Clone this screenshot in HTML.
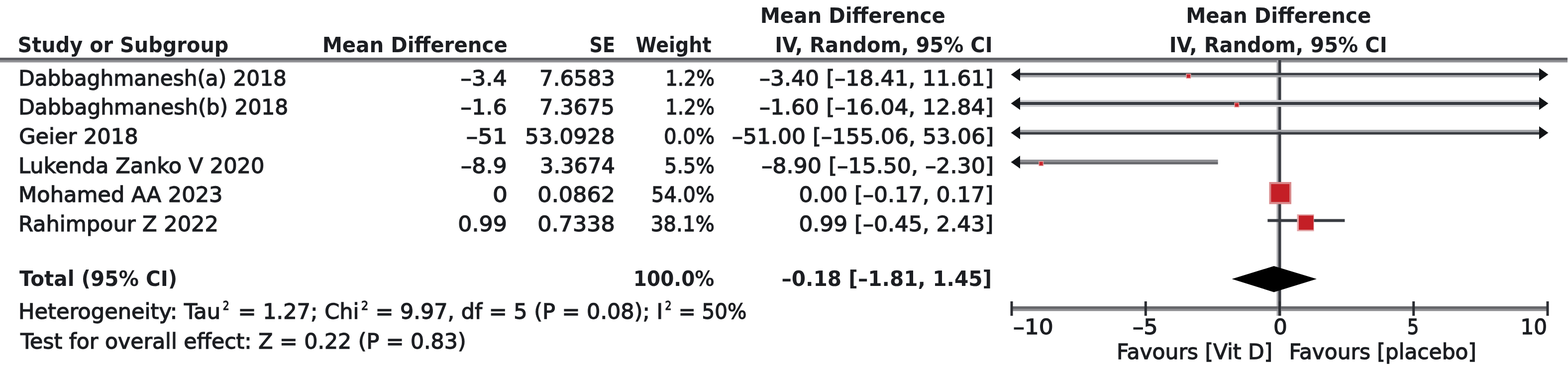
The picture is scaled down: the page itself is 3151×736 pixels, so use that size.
<!DOCTYPE html>
<html><head><meta charset="utf-8"><title>Forest plot</title><style>
html,body{margin:0;padding:0;background:#fff;}
body{width:3151px;height:736px;overflow:hidden;}
svg{display:block;}
text{font-family:"DejaVu Sans", "Liberation Sans", sans-serif;font-size:42px;fill:#1c1e22;}
text.r{stroke:#1c1e22;stroke-width:1.3px;}
text.b{font-weight:bold;}
</style></head><body>
<svg width="3151" height="736" viewBox="0 0 3151 736">
<rect x="0" y="116" width="3150" height="5" fill="#606166"/>
<rect x="0" y="121" width="3150" height="4.5" fill="#909094"/>
<rect x="2565.5" y="121" width="3.5" height="514" fill="#a9a9ad"/>
<rect x="2569" y="121" width="5.5" height="514" fill="#393c42"/>
<rect x="2031" y="616" width="1081" height="5" fill="#66676b"/>
<rect x="2031" y="621" width="1081" height="4.5" fill="#8d8d91"/>
<rect x="2030.5" y="606" width="5" height="29" fill="#2c2e33"/>
<rect x="2299.8" y="606" width="5" height="29" fill="#2c2e33"/>
<rect x="2569.0" y="606" width="5" height="29" fill="#2c2e33"/>
<rect x="2838.2" y="606" width="5" height="29" fill="#2c2e33"/>
<rect x="3107.5" y="606" width="5" height="29" fill="#2c2e33"/>
<rect x="2048.0" y="146.5" width="1047.0" height="4.5" fill="#393c42"/>
<rect x="2048.0" y="151" width="1047.0" height="4.5" fill="#a4a5a9"/>
<polygon points="2031.5,150.0 2050.0,137.0 2050.0,163.0" fill="#111316"/>
<polygon points="3111.5,150.0 3093.0,137.0 3093.0,163.0" fill="#111316"/>
<rect x="2048.0" y="201" width="1047.0" height="4.0" fill="#d0d0d3"/>
<rect x="2048.0" y="205" width="1047.0" height="6.0" fill="#393c42"/>
<rect x="2048.0" y="211" width="1047.0" height="4.0" fill="#d0d0d3"/>
<polygon points="2031.5,208.0 2050.0,195.0 2050.0,221.0" fill="#111316"/>
<polygon points="3111.5,208.0 3093.0,195.0 3093.0,221.0" fill="#111316"/>
<rect x="2048.0" y="261" width="1047.0" height="4.5" fill="#a4a5a9"/>
<rect x="2048.0" y="265.5" width="1047.0" height="5.1" fill="#393c42"/>
<polygon points="2031.5,267.0 2050.0,254.0 2050.0,280.0" fill="#111316"/>
<polygon points="3111.5,267.0 3093.0,254.0 3093.0,280.0" fill="#111316"/>
<rect x="2048.0" y="321" width="399.6" height="5.0" fill="#8e8e92"/>
<rect x="2048.0" y="326" width="399.6" height="4.5" fill="#66676b"/>
<polygon points="2031.5,326.0 2050.0,313.0 2050.0,339.0" fill="#111316"/>
<rect x="2547.3" y="440.5" width="155.1" height="5.9" fill="#393c42"/>
<rect x="2383.4" y="148.0" width="10" height="10" fill="#e8a0a0"/>
<rect x="2384.9" y="149.5" width="7" height="7" fill="#c8242b"/>
<rect x="2480.3" y="206.0" width="10" height="10" fill="#e8a0a0"/>
<rect x="2481.8" y="207.5" width="7" height="7" fill="#c8242b"/>
<rect x="2087.2" y="324.0" width="10" height="10" fill="#e8a0a0"/>
<rect x="2088.7" y="325.5" width="7" height="7" fill="#c8242b"/>
<rect x="2550.5" y="366" width="44.5" height="44.5" fill="#d98a8c"/>
<rect x="2554.4" y="370.2" width="36.8" height="35.9" fill="#c41f26"/>
<rect x="2606.5" y="431" width="34" height="34" fill="#e3a3a5"/>
<rect x="2610" y="433.5" width="29.5" height="28.5" fill="#c41f26"/>
<polygon points="2475.5,561 2560,535 2646,561 2560,587.5" fill="#000"/>
<text class="b" x="1527.66" y="46" textLength="372.19" lengthAdjust="spacingAndGlyphs">Mean Difference</text>
<text class="b" x="2383.16" y="46" textLength="372.19" lengthAdjust="spacingAndGlyphs">Mean Difference</text>
<text class="b" x="35.55" y="105" textLength="423.78" lengthAdjust="spacingAndGlyphs">Study or Subgroup</text>
<text class="b" x="647.66" y="105" textLength="372.19" lengthAdjust="spacingAndGlyphs">Mean Difference</text>
<text class="b" x="1184.57" y="105" textLength="51.72" lengthAdjust="spacingAndGlyphs">SE</text>
<text class="b" x="1277.59" y="105" textLength="152.1" lengthAdjust="spacingAndGlyphs">Weight</text>
<text class="b" x="1557.19" y="105" textLength="437.39" lengthAdjust="spacingAndGlyphs">IV, Random, 95% CI</text>
<text class="b" x="2349.68" y="105" textLength="437.9" lengthAdjust="spacingAndGlyphs">IV, Random, 95% CI</text>
<text class="r" x="37.19" y="171.5" textLength="538.6" lengthAdjust="spacingAndGlyphs">Dabbaghmanesh(a) 2018</text>
<text class="r" x="925.64" y="171.5" textLength="93.17" lengthAdjust="spacingAndGlyphs">–3.4</text>
<text class="r" x="1084.0" y="171.5" textLength="151.97" lengthAdjust="spacingAndGlyphs">7.6583</text>
<text class="r" x="1336.99" y="171.5" textLength="99.1" lengthAdjust="spacingAndGlyphs">1.2%</text>
<text class="r" x="1526.05" y="171.5" textLength="470.71" lengthAdjust="spacingAndGlyphs">–3.40 [–18.41, 11.61]</text>
<text class="r" x="37.18" y="230.2" textLength="542.04" lengthAdjust="spacingAndGlyphs">Dabbaghmanesh(b) 2018</text>
<text class="r" x="925.64" y="230.2" textLength="93.17" lengthAdjust="spacingAndGlyphs">–1.6</text>
<text class="r" x="1084.02" y="230.2" textLength="151.03" lengthAdjust="spacingAndGlyphs">7.3675</text>
<text class="r" x="1336.99" y="230.2" textLength="99.1" lengthAdjust="spacingAndGlyphs">1.2%</text>
<text class="r" x="1526.05" y="230.2" textLength="470.71" lengthAdjust="spacingAndGlyphs">–1.60 [–16.04, 12.84]</text>
<text class="r" x="38.15" y="288.9" textLength="239.42" lengthAdjust="spacingAndGlyphs">Geier 2018</text>
<text class="r" x="936.89" y="288.9" textLength="82.96" lengthAdjust="spacingAndGlyphs">–51</text>
<text class="r" x="1055.12" y="288.9" textLength="180.43" lengthAdjust="spacingAndGlyphs">53.0928</text>
<text class="r" x="1333.99" y="288.9" textLength="102.14" lengthAdjust="spacingAndGlyphs">0.0%</text>
<text class="r" x="1470.95" y="288.9" textLength="526.27" lengthAdjust="spacingAndGlyphs">–51.00 [–155.06, 53.06]</text>
<text class="r" x="37.13" y="347.6" textLength="494.23" lengthAdjust="spacingAndGlyphs">Lukenda Zanko V 2020</text>
<text class="r" x="926.14" y="347.6" textLength="92.65" lengthAdjust="spacingAndGlyphs">–8.9</text>
<text class="r" x="1085.05" y="347.6" textLength="150.77" lengthAdjust="spacingAndGlyphs">3.3674</text>
<text class="r" x="1335.11" y="347.6" textLength="101.01" lengthAdjust="spacingAndGlyphs">5.5%</text>
<text class="r" x="1530.25" y="347.6" textLength="466.81" lengthAdjust="spacingAndGlyphs">–8.90 [–15.50, –2.30]</text>
<text class="r" x="37.12" y="406.3" textLength="410.39" lengthAdjust="spacingAndGlyphs">Mohamed AA 2023</text>
<text class="r" x="989.96" y="406.3" textLength="29.99" lengthAdjust="spacingAndGlyphs">0</text>
<text class="r" x="1080.38" y="406.3" textLength="155.66" lengthAdjust="spacingAndGlyphs">0.0862</text>
<text class="r" x="1309.1" y="406.3" textLength="126.77" lengthAdjust="spacingAndGlyphs">54.0%</text>
<text class="r" x="1605.41" y="406.3" textLength="390.87" lengthAdjust="spacingAndGlyphs">0.00 [–0.17, 0.17]</text>
<text class="r" x="37.12" y="465.0" textLength="401.79" lengthAdjust="spacingAndGlyphs">Rahimpour Z 2022</text>
<text class="r" x="920.39" y="465.0" textLength="98.56" lengthAdjust="spacingAndGlyphs">0.99</text>
<text class="r" x="1080.38" y="465.0" textLength="155.5" lengthAdjust="spacingAndGlyphs">0.7338</text>
<text class="r" x="1307.68" y="465.0" textLength="128.2" lengthAdjust="spacingAndGlyphs">38.1%</text>
<text class="r" x="1605.41" y="465.0" textLength="390.87" lengthAdjust="spacingAndGlyphs">0.99 [–0.45, 2.43]</text>
<text class="b" x="39.0" y="575" textLength="317.24" lengthAdjust="spacingAndGlyphs">Total (95% CI)</text>
<text class="b" x="1272.85" y="575" textLength="162.62" lengthAdjust="spacingAndGlyphs">100.0%</text>
<text class="b" x="1570.46" y="575" textLength="422.7" lengthAdjust="spacingAndGlyphs">–0.18 [–1.81, 1.45]</text>
<text class="r" x="37.12" y="641" textLength="406.0" lengthAdjust="spacingAndGlyphs">Heterogeneity: Tau</text>
<text class="r" x="447.75" y="622.5" style="font-size:24px" textLength="12.93" lengthAdjust="spacingAndGlyphs">2</text>
<text class="r" x="478.4" y="641" textLength="243.07" lengthAdjust="spacingAndGlyphs">= 1.27; Chi</text>
<text class="r" x="726.07" y="622.5" style="font-size:24px" textLength="14.22" lengthAdjust="spacingAndGlyphs">2</text>
<text class="r" x="754.41" y="641" textLength="577.74" lengthAdjust="spacingAndGlyphs">= 9.97, df = 5 (P = 0.08); I</text>
<text class="r" x="1336.45" y="622.5" style="font-size:24px" textLength="12.93" lengthAdjust="spacingAndGlyphs">2</text>
<text class="r" x="1363.65" y="641" textLength="136.69" lengthAdjust="spacingAndGlyphs">= 50%</text>
<text class="r" x="41.22" y="701" textLength="895.3" lengthAdjust="spacingAndGlyphs">Test for overall effect: Z = 0.22 (P = 0.83)</text>
<text class="r" x="2035.92" y="671.5" textLength="80.74" lengthAdjust="spacingAndGlyphs">–10</text>
<text class="r" x="2276.04" y="671.5" textLength="50.77" lengthAdjust="spacingAndGlyphs">–5</text>
<text class="r" x="2558.92" y="671.5" textLength="27.78" lengthAdjust="spacingAndGlyphs">0</text>
<text class="r" x="2827.73" y="671.5" textLength="23.7" lengthAdjust="spacingAndGlyphs">5</text>
<text class="r" x="3055.5" y="671.5" textLength="53.45" lengthAdjust="spacingAndGlyphs">10</text>
<text class="r" x="2243.97" y="722" textLength="313.19" lengthAdjust="spacingAndGlyphs">Favours [Vit D]</text>
<text class="r" x="2590.48" y="722" textLength="376.38" lengthAdjust="spacingAndGlyphs">Favours [placebo]</text>
</svg>
</body></html>
